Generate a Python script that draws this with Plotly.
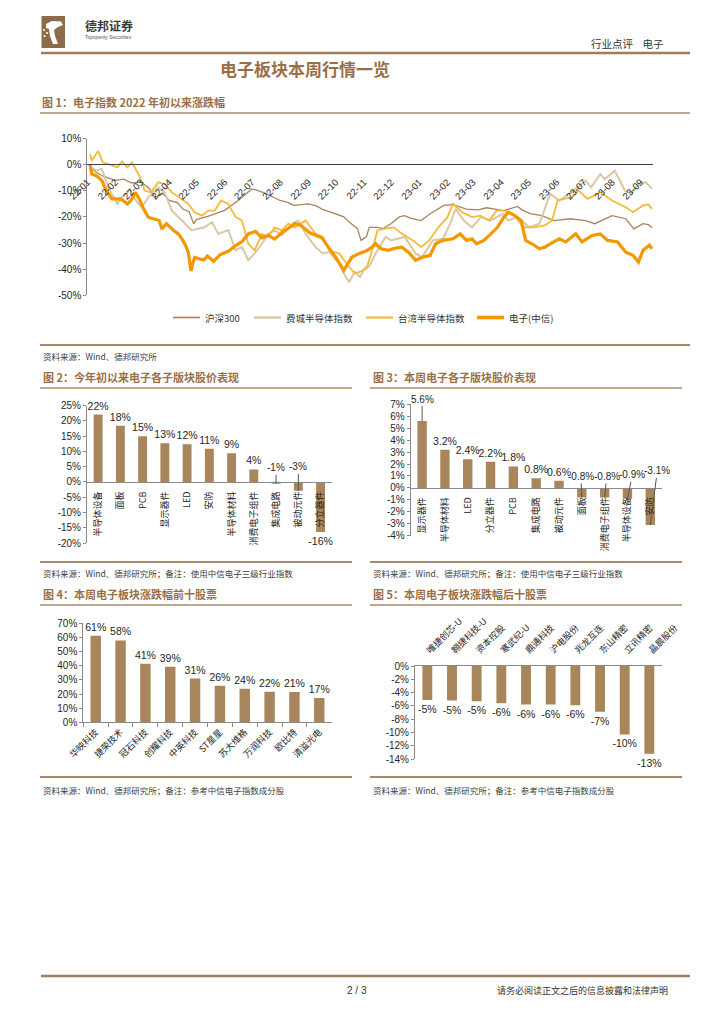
import plotly.graph_objects as go

# ====================== DATA ======================
line_names = ["沪深300", "费城半导体指数", "台湾半导体指数", "电子(中信)"]

hs300_dates = ["2022-01-04","2022-01-06","2022-01-11","2022-01-19","2022-02-01","2022-02-10","2022-02-19","2022-03-01","2022-03-10","2022-03-16",
               "2022-03-25","2022-04-01","2022-04-10","2022-04-16","2022-04-23","2022-04-28","2022-05-01","2022-05-16","2022-06-01","2022-06-16",
               "2022-06-25","2022-07-01","2022-07-07","2022-07-16","2022-08-01","2022-08-10","2022-08-16","2022-09-01","2022-09-10","2022-09-16",
               "2022-10-01","2022-10-10","2022-10-16","2022-10-25","2022-10-29","2022-11-04","2022-11-07","2022-11-16","2022-11-22","2022-12-01",
               "2022-12-10","2022-12-16","2022-12-22","2023-01-03","2023-01-13","2023-01-28","2023-02-07","2023-02-16","2023-02-22","2023-03-07",
               "2023-03-16","2023-03-25","2023-04-04","2023-04-19","2023-04-25","2023-05-04","2023-05-16","2023-05-29","2023-06-16","2023-07-03",
               "2023-07-13","2023-08-01","2023-08-16","2023-08-25","2023-09-04","2023-09-10","2023-09-14"]
hs300_vals = [0, -1.5, -3, -4.5, -6, -5.5, -7, -6.7, -9, -12.5,
              -11, -13.7, -14.5, -17, -18, -22.6, -21, -19.5, -17.5, -13.7,
              -11, -9.3, -9.8, -11, -13.7, -14.5, -15.6, -15, -15.8, -17,
              -18.8, -20, -22, -24.5, -29, -27.5, -24, -24, -24.5, -22.6,
              -20, -19.5, -20.5, -21.4, -18.8, -15.6, -15.3, -16.5, -17, -17.3,
              -16.5, -17, -17.6, -16, -17.5, -18.8, -19.5, -21.4, -20.7, -21.4,
              -22.6, -19.5, -20.7, -24.6, -22.6, -23, -24.2]

sox_dates = ["2022-01-04","2022-01-05","2022-01-11","2022-01-17","2022-01-24","2022-02-03","2022-02-08","2022-02-17","2022-02-24","2022-03-02",
             "2022-03-09","2022-03-20","2022-03-27","2022-04-04","2022-04-15","2022-04-26","2022-05-03","2022-05-10","2022-05-18","2022-05-25",
             "2022-06-05","2022-06-13","2022-06-20","2022-06-27","2022-07-04","2022-07-12","2022-07-19","2022-07-26","2022-08-03","2022-08-14",
             "2022-08-21","2022-08-29","2022-09-09","2022-09-17","2022-09-24","2022-10-05","2022-10-10","2022-10-16","2022-10-22","2022-10-28",
             "2022-11-02","2022-11-07","2022-11-14","2022-11-25","2022-12-01","2022-12-16","2022-12-28","2023-01-04","2023-01-16","2023-01-27",
             "2023-02-04","2023-02-10","2023-02-19","2023-02-28","2023-03-10","2023-03-20","2023-04-03","2023-04-09","2023-04-19","2023-05-02",
             "2023-05-13","2023-05-25","2023-06-04","2023-06-17","2023-07-03","2023-07-09","2023-07-19","2023-07-24","2023-08-04","2023-08-15",
             "2023-08-22","2023-08-30","2023-09-07","2023-09-14"]
sox_vals = [0, -1, -2.3, -1.6, -8.6, -15, -12.5, -9.3, -14, -16.3,
            -12.5, -8.7, -10.6, -17.6, -21.4, -25.2, -24.5, -24, -22, -26.5,
            -25, -32.8, -31.5, -36.6, -34, -30.3, -26.5, -25.2, -27, -22.6,
            -21.4, -26.5, -31.6, -34, -33.5, -37.9, -41.7, -45, -41, -43,
            -39.5, -39, -34, -27.7, -29, -27.7, -34, -35.4, -29, -28.4,
            -22.6, -16.9, -21.4, -24, -20, -21.4, -18.8, -21.4, -20, -24,
            -22.6, -11.2, -13.7, -10.6, -6.1, -8.7, -3.6, -5.5, -2.3, -9.9,
            -11.2, -7.4, -6.7, -9.3]

tw_dates = ["2022-01-04","2022-01-06","2022-01-13","2022-01-18","2022-01-26","2022-02-03","2022-02-08","2022-02-14","2022-02-19","2022-02-28",
            "2022-03-05","2022-03-12","2022-03-20","2022-03-27","2022-04-04","2022-04-15","2022-04-22","2022-04-29","2022-05-07","2022-05-14",
            "2022-05-21","2022-05-28","2022-06-05","2022-06-13","2022-06-20","2022-06-27","2022-07-04","2022-07-12","2022-07-19","2022-07-26",
            "2022-08-03","2022-08-10","2022-08-17","2022-08-29","2022-09-09","2022-09-17","2022-09-24","2022-10-05","2022-10-10","2022-10-16",
            "2022-10-22","2022-10-28","2022-11-04","2022-11-10","2022-11-16","2022-11-23","2022-12-04","2022-12-13","2022-12-25","2023-01-03",
            "2023-01-12","2023-01-22","2023-02-01","2023-02-07","2023-02-17","2023-02-28","2023-03-09","2023-03-19","2023-03-27","2023-04-04",
            "2023-04-14","2023-04-26","2023-05-07","2023-05-19","2023-05-27","2023-06-02","2023-06-17","2023-06-25","2023-07-05","2023-07-19",
            "2023-08-01","2023-08-16","2023-08-24","2023-09-04","2023-09-10","2023-09-14"]
tw_vals = [4, 1.5, 5.3, 0.9, 0, -1, 1.3, -1, 0.9, -4.8,
           -9.9, -10.6, -6.7, -7.4, -10.6, -13.1, -15, -18.2, -19.5, -17.6,
           -17.6, -13.7, -15, -20.1, -21.4, -30.3, -32.8, -26.5, -27.7, -24,
           -25.2, -22.6, -24, -21.4, -26.5, -27.7, -32.8, -34, -36.5, -39.2,
           -41.7, -41, -39.8, -33, -25.2, -24.6, -24, -26.5, -29, -31.6,
           -29, -24, -20.1, -15, -18.2, -20.1, -19.5, -21.4, -17.6, -17.6,
           -18.8, -24, -24, -23.3, -21.4, -13.7, -12.5, -9.9, -13.1, -10.6,
           -13.7, -16.3, -18.2, -15.6, -15.2, -16.9]

elec_dates = ["2022-01-04","2022-01-06","2022-01-11","2022-01-17","2022-01-21","2022-01-28","2022-02-07","2022-02-14","2022-02-18","2022-02-23",
              "2022-02-28","2022-03-03","2022-03-09","2022-03-15","2022-03-21","2022-03-24","2022-03-29","2022-04-06","2022-04-11","2022-04-15",
              "2022-04-19","2022-04-22","2022-04-25","2022-04-27","2022-04-29","2022-05-09","2022-05-13","2022-05-20","2022-05-27","2022-06-06",
              "2022-06-13","2022-06-20","2022-06-27","2022-07-05","2022-07-12","2022-07-19","2022-07-26","2022-08-03","2022-08-11","2022-08-18",
              "2022-08-25","2022-09-02","2022-09-09","2022-09-16","2022-09-23","2022-10-01","2022-10-10","2022-10-19","2022-10-27",
              "2022-11-04","2022-11-10","2022-11-14","2022-11-20","2022-11-28","2022-12-05","2022-12-13","2022-12-20","2022-12-28","2023-01-05",
              "2023-01-13","2023-01-19","2023-01-27","2023-02-07","2023-02-15","2023-02-22","2023-02-28","2023-03-05","2023-03-13","2023-03-19",
              "2023-03-28","2023-04-04","2023-04-09","2023-04-16","2023-04-23","2023-04-28","2023-05-05","2023-05-13","2023-05-19","2023-05-25",
              "2023-06-04","2023-06-11","2023-06-22","2023-06-29","2023-07-10","2023-07-19","2023-07-27","2023-08-07","2023-08-16","2023-08-24",
              "2023-08-30","2023-09-04","2023-09-08","2023-09-11","2023-09-14"]
elec_vals = [0, -3.6, -4.2, -6.1, -9.3, -13.1, -13.1, -15, -13.7, -10.6,
             -13.7, -16.3, -20.1, -20.7, -21.4, -24.6, -22.6, -25.2, -26.5, -28.4,
             -30.9, -33.5, -40.7, -37.8, -35.5, -36.5, -35, -37, -34.5, -33,
             -31, -29.5, -26.5, -25.5, -28, -27, -28.5, -26, -24, -22.5,
             -23.5, -26, -27, -28, -31.6, -35.4, -40.5, -35.4, -34,
             -33, -31.6, -30.3, -32.2, -32.8, -32, -31.6, -33.5, -36.6, -35.4,
             -34.7, -30.3, -29, -28.4, -26.5, -29, -28.4, -30.3, -29, -27.1,
             -24, -20.1, -18.2, -19.5, -21.4, -29, -30.3, -32.2, -31.6, -30.3,
             -28.4, -29.6, -26.5, -29.6, -27.1, -26.5, -29, -29.6, -33.5, -34.7,
             -37.3, -32.8, -31.6, -30.9, -32.2]

month_ticks = ["2022-01-01","2022-02-01","2022-03-01","2022-04-01","2022-05-01","2022-06-01","2022-07-01",
               "2022-08-01","2022-09-01","2022-10-01","2022-11-01","2022-12-01","2023-01-01","2023-02-01",
               "2023-03-01","2023-04-01","2023-05-01","2023-06-01","2023-07-01","2023-08-01","2023-09-01"]
month_labels = ["22-01","22-02","22-03","22-04","22-05","22-06","22-07","22-08","22-09","22-10","22-11",
                "22-12","23-01","23-02","23-03","23-04","23-05","23-06","23-07","23-08","23-09"]
fig1_yticks = [10, 0, -10, -20, -30, -40, -50]

fig2_cats = ["半导体设备","面板","PCB","显示器件","LED","安防","半导体材料","消费电子组件","集成电路","被动元件","分立器件"]
fig2_vals = [22.1, 18.4, 15.0, 12.7, 12.4, 10.9, 9.4, 4.1, -0.6, -2.9, -16.4]
fig2_yticks = [25, 20, 15, 10, 5, 0, -5, -10, -15, -20]

fig3_cats = ["显示器件","半导体材料","LED","分立器件","PCB","集成电路","被动元件","面板","消费电子组件","半导体设备","安防"]
fig3_vals = [5.6, 3.2, 2.4, 2.2, 1.8, 0.8, 0.6, -0.8, -0.8, -0.9, -3.1]
fig3_yticks = [7, 6, 5, 4, 3, 2, 1, 0, -1, -2, -3, -4]

fig4_cats = ["华映科技","捷荣技术","冠石科技","创耀科技","中英科技","ST星星","苏大维格","万润科技","欧比特","清溢光电"]
fig4_vals = [61.2, 57.9, 41.4, 39.3, 30.9, 25.8, 23.8, 21.6, 21.4, 17.2]
fig4_yticks = [70, 60, 50, 40, 30, 20, 10, 0]

fig5_cats = ["唯捷创芯-U","翱捷科技-U","资本控股","寒武纪-U","鼎通科技","沪电股份","兆龙互连","东山精密","立讯精密","晶晨股份"]
fig5_vals = [-5.1, -5.2, -5.3, -5.6, -5.8, -5.8, -5.9, -6.9, -10.3, -13.2]
fig5_yticks = [0, -2, -4, -6, -8, -10, -12, -14]

# ====================== STYLE / LAYOUT HELPERS ======================
W, H = 724, 1024
def px(x): return x / W
def py(y): return 1 - y / H

FONT = "Liberation Sans, Noto Sans CJK SC, sans-serif"
CJK = "Noto Sans CJK SC, Liberation Sans, sans-serif"
BROWN = "#9A6F48"
RULE = "#A88A6B"
BAR = "#A8855B"
AXIS = "#8A8A8A"
TXT = "#262626"
line_colors = ["#A8845F", "#D9C8A4", "#F8B939", "#F39800"]
line_widths = [1.3, 2.0, 1.8, 3.2]

fig = go.Figure()

# ---------- Figure 1: lines ----------
series = [(hs300_dates, hs300_vals), (sox_dates, sox_vals), (tw_dates, tw_vals), (elec_dates, elec_vals)]
for name, (d, v), c, w in zip(line_names, series, line_colors, line_widths):
    fig.add_trace(go.Scatter(x=d, y=v, name=name, mode="lines", line=dict(color=c, width=w),
                             xaxis="x", yaxis="y", showlegend=False, hoverinfo="skip"))

BAR_FONT = dict(family=FONT, size=10.5, color=TXT)
LEAD_FONT = dict(family=FONT, size=10, color=TXT)

def bar(cats, vals, ax, width, text, pos):
    return go.Bar(x=cats, y=vals, xaxis="x" + ax, yaxis="y" + ax, width=width,
                  marker=dict(color=BAR, line=dict(width=0)), text=text, textposition=pos,
                  constraintext="none", textfont=BAR_FONT, cliponaxis=False,
                  showlegend=False, hoverinfo="skip")

# ---------- Figure 2 ----------
f2_lead = {8: (0, -16), 9: (0, -24)}
fig.add_trace(bar(fig2_cats, fig2_vals, "2", 0.4,
                  ["" if i in f2_lead else f"{v:.0f}%" for i, v in enumerate(fig2_vals)],
                  ["none" if i in f2_lead else "outside" for i in range(len(fig2_vals))]))

# ---------- Figure 3 ----------
f3_lead = {0: (0, -22), 7: (-1, -21), 8: (2, -21), 9: (5, -24), 10: (7, -54)}
fig.add_trace(bar(fig3_cats, fig3_vals, "3", 0.41,
                  ["" if i in f3_lead else f"{v:.1f}%" for i, v in enumerate(fig3_vals)],
                  ["none" if i in f3_lead else "outside" for i in range(len(fig3_vals))]))

# ---------- Figure 4 ----------
fig.add_trace(bar(fig4_cats, fig4_vals, "4", 0.42, [f"{v:.0f}%" for v in fig4_vals], "outside"))

# ---------- Figure 5 ----------
fig.add_trace(bar(fig5_cats, fig5_vals, "5", 0.4, [f"{v:.0f}%" for v in fig5_vals], "outside"))


def yax(top, bottom, ticks, rng, anchor):
    return dict(domain=[py(bottom), py(top)], range=rng, tickvals=ticks,
                ticktext=[f"{t}%" for t in ticks], showline=True, linecolor=AXIS, linewidth=1,
                ticks="outside", ticklen=3, tickcolor=AXIS, showgrid=False, zeroline=False,
                tickfont=dict(family=FONT, size=10, color=TXT), anchor=anchor, fixedrange=True,
                automargin=False)


def xcat(left, right, **kw):
    d = dict(type="category", domain=[px(left), px(right)], showline=True, linecolor=AXIS,
             linewidth=1, showgrid=False, zeroline=False, fixedrange=True, automargin=False,
             tickfont=dict(family=CJK, size=9, color=TXT))
    d.update(kw)
    return d


layout_axes = dict(
    xaxis=dict(type="date", domain=[px(87.3), px(653)], range=["2022-01-01", "2023-09-15"],
               anchor="free", position=py(164), tickvals=month_ticks, ticktext=month_labels,
               tickangle=-45, showline=True, linecolor="#404040", linewidth=1, automargin=False,
               ticks="outside", ticklen=8, tickcolor="rgba(0,0,0,0)", showgrid=False, zeroline=False,
               tickfont=dict(family=FONT, size=9.5, color=TXT), fixedrange=True),
    yaxis=yax(138.6, 295.2, fig1_yticks, [-50, 10], "x"),
    xaxis2=xcat(87, 331.7, range=[-0.5, 10.5], anchor="free", position=py(482), tickangle=-90,
                ticks="outside", ticklen=5, tickcolor="rgba(0,0,0,0)"),
    yaxis2=yax(405.7, 543, fig2_yticks, [-20, 25], "x2"),
    xaxis3=xcat(410.7, 661.7, range=[-0.5, 10.5], anchor="free", position=py(487.7), tickangle=-90,
                ticks="outside", ticklen=5, tickcolor="rgba(0,0,0,0)"),
    yaxis3=yax(404.3, 535.7, fig3_yticks, [-4, 7], "x3"),
    xaxis4=xcat(83.3, 331.7, range=[-0.5, 9.5], anchor="y4", tickangle=-45,
                ticks="outside", ticklen=4, tickcolor=AXIS, tickson="boundaries"),
    yaxis4=yax(623.3, 722.3, fig4_yticks, [0, 70], "x4"),
    xaxis5=xcat(415, 661.7, range=[-0.5, 9.5], anchor="y5", side="top", tickangle=-45,
                ticks="outside", ticklen=6, tickcolor="rgba(0,0,0,0)"),
    yaxis5=yax(666, 759, fig5_yticks, [-14, 0], "x5"),
)

# ====================== PAGE DECORATION ======================
ann = []
def txt(x, y, s, size=9, color=TXT, anchor="left", family=CJK):
    ann.append(dict(x=px(x), y=py(y), xref="paper", yref="paper", text=s, showarrow=False,
                    xanchor=anchor, yanchor="middle", font=dict(family=family, size=size, color=color)))

# header
txt(83, 25, "<b>德邦证券</b>", size=12, color="#3A3A3A")
txt(83, 36.5, "Topsperity Securities", size=5, color="#555555", family=FONT)
txt(665, 43, "行业点评    电子", size=10.5, color="#333333", anchor="right")
txt(305, 68, "<b>电子板块本周行情一览</b>", size=17, color=BROWN, anchor="center")

# figure titles
txt(40, 102, "<b>图 1：电子指数 2022 年初以来涨跌幅</b>", size=11, color=BROWN)
txt(41, 377, "<b>图 2：今年初以来电子各子版块股价表现</b>", size=11, color=BROWN)
txt(371, 377, "<b>图 3：本周电子各子版块股价表现</b>", size=11, color=BROWN)
txt(41, 594, "<b>图 4：本周电子板块涨跌幅前十股票</b>", size=11, color=BROWN)
txt(371, 594, "<b>图 5：本周电子板块涨跌幅后十股票</b>", size=11, color=BROWN)

# sources
src1 = "资料来源：Wind、德邦研究所"
src2 = "资料来源：Wind、德邦研究所；备注：使用中信电子三级行业指数"
src3 = "资料来源：Wind、德邦研究所；备注：参考中信电子指数成分股"
txt(41, 356, src1, size=8.5, color="#404040")
txt(41, 573, src2, size=8.5, color="#404040")
txt(371, 573, src2, size=8.5, color="#404040")
txt(41, 790, src3, size=8.5, color="#404040")
txt(371, 790, src3, size=8.5, color="#404040")

# footer
txt(357, 990, "2 / 3", size=10, color="#333333", anchor="center", family=FONT)
txt(670, 990, "请务必阅读正文之后的信息披露和法律声明", size=9, color="#333333", anchor="right")

# legend of figure 1 (built from the series names)
leg_x = [173, 254, 366, 477]
shapes = []
for name, c, w, x0 in zip(line_names, line_colors, line_widths, leg_x):
    shapes.append(dict(type="line", xref="paper", yref="paper", x0=px(x0), x1=px(x0 + 27),
                       y0=py(317.5), y1=py(317.5), line=dict(color=c, width=w + 0.4)))
    txt(x0 + 30, 317.5, name, size=9.5, color="#333333")

# leader-line labels
for i, (axo, ayo) in f2_lead.items():
    ann.append(dict(x=fig2_cats[i], y=fig2_vals[i], xref="x2", yref="y2", text=f"{fig2_vals[i]:.0f}%",
                    showarrow=True, arrowhead=0, arrowwidth=1, arrowcolor="#555555", ax=axo,
                    ay=ayo, standoff=0, font=LEAD_FONT))
for i, (axo, ayo) in f3_lead.items():
    ann.append(dict(x=fig3_cats[i], y=fig3_vals[i], xref="x3", yref="y3", text=f"{fig3_vals[i]:.1f}%",
                    showarrow=True, arrowhead=0, arrowwidth=1, arrowcolor="#555555", ax=axo,
                    ay=ayo, standoff=0, font=LEAD_FONT))

# rules
def hline(x0, x1, y, w=1.6, color=RULE):
    shapes.append(dict(type="line", xref="paper", yref="paper", x0=px(x0), x1=px(x1),
                       y0=py(y), y1=py(y), line=dict(color=color, width=w)))

hline(41, 690, 53, 2.6, "#9E7E5E")
hline(40, 690, 113)
hline(40, 690, 345, 2)
hline(40, 352, 388); hline(370, 682, 388)
hline(40, 352, 562, 2); hline(370, 682, 562, 2)
hline(40, 352, 605); hline(370, 682, 605)
hline(40, 352, 777, 2); hline(370, 682, 777, 2)
hline(41, 690, 976, 2.6, "#9E7E5E")

# logo
shapes.append(dict(type="rect", xref="paper", yref="paper", x0=px(41.5), x1=px(65), y0=py(48), y1=py(16),
                   fillcolor="#8E6C4A", line=dict(width=0)))
def pth(pts):
    return "M " + " L ".join(f"{px(a):.5f},{py(b):.5f}" for a, b in pts) + " Z"
shapes.append(dict(type="path", xref="paper", yref="paper",
                   path=pth([(46, 24), (52, 21), (61, 21.5), (63, 25), (58, 27), (54, 30), (55, 36),
                             (58, 44), (53, 44), (50, 36), (49, 29), (46, 28)]),
                   fillcolor="white", line=dict(width=0)))
for (cx, cy) in [(44, 30), (47, 33), (44.5, 36)]:
    shapes.append(dict(type="circle", xref="paper", yref="paper", x0=px(cx - 1), x1=px(cx + 1),
                       y0=py(cy + 1), y1=py(cy - 1), fillcolor="white", line=dict(width=0)))

fig.update_layout(
    width=W, height=H, margin=dict(l=0, r=0, t=0, b=0, pad=0, autoexpand=False),
    paper_bgcolor="white", plot_bgcolor="rgba(0,0,0,0)",
    font=dict(family=FONT, size=10, color=TXT),
    showlegend=False, bargap=0.6,
    annotations=ann, shapes=shapes,
    **layout_axes,
)

fig.write_html("out.html", config={"displayModeBar": False},
               post_script="document.body.style.margin='0';document.body.style.overflow='hidden';")
